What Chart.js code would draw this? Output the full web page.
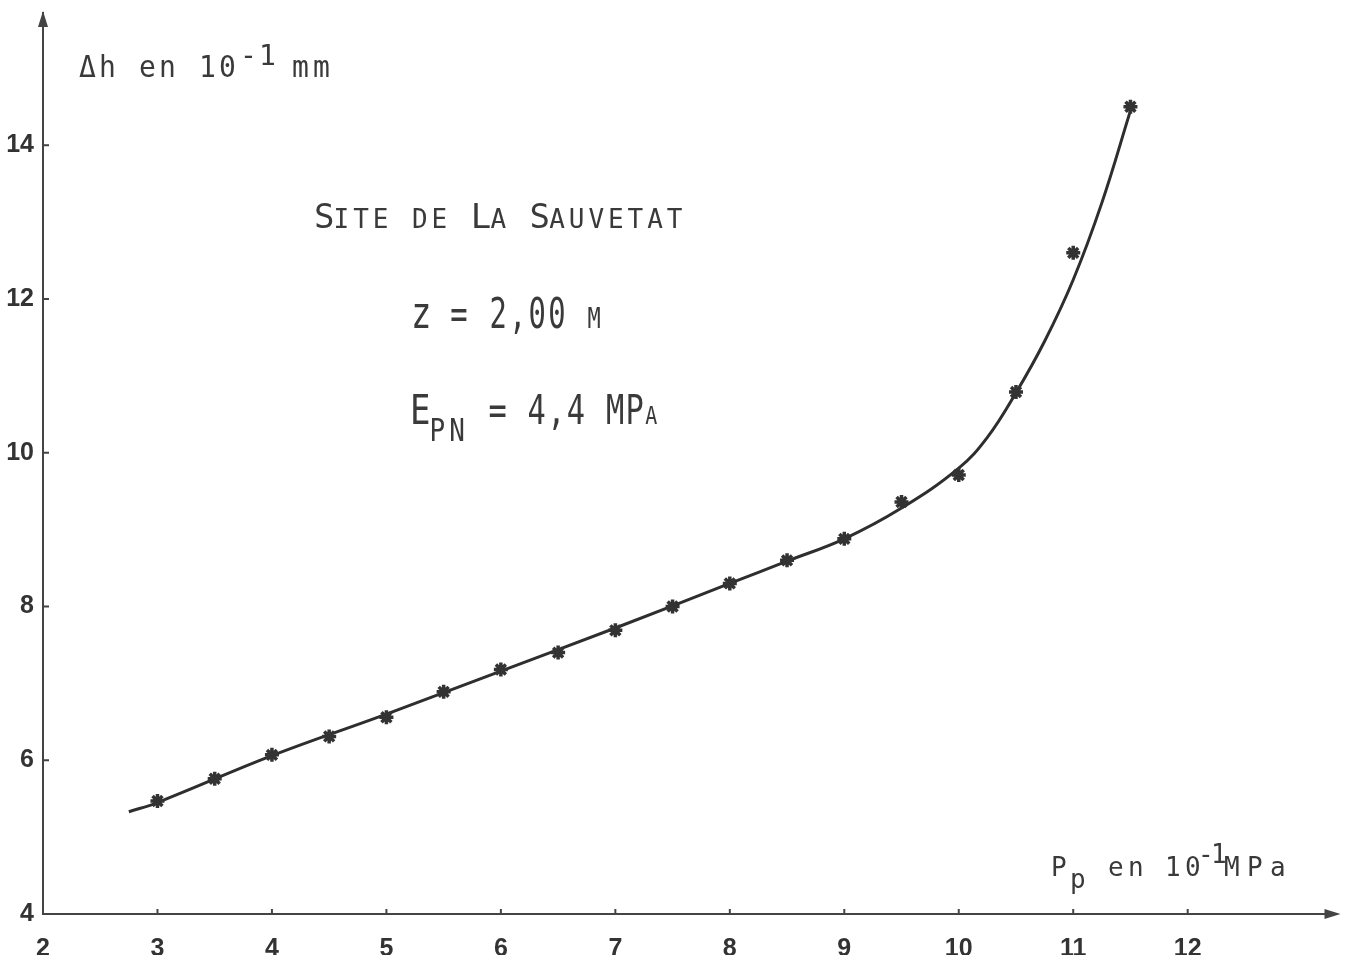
<!DOCTYPE html>
<html>
<head>
<meta charset="utf-8">
<script src="https://cdn.jsdelivr.net/npm/chart.js@4/dist/chart.umd.min.js"></script>
<style>
  html, body { margin: 0; padding: 0; background: #ffffff; }
  canvas { display: block; }
</style>
</head>
<body>
<canvas id="c" width="1347" height="955"></canvas>
<script>
// ---- data ----
const xTickValues = [2, 3, 4, 5, 6, 7, 8, 9, 10, 11, 12];
const yTickValues = [4, 6, 8, 10, 12, 14];

// measured points (pressure Pp in 10^-1 MPa, deformation Δh in 10^-1 mm)
const pressure    = [3, 3.5, 4, 4.5, 5, 5.5, 6, 6.5, 7, 7.5, 8, 8.5, 9, 9.5, 10, 10.5, 11, 11.5];
const deformation = [5.47, 5.76, 6.07, 6.31, 6.56, 6.89, 7.18, 7.40, 7.69, 8.00, 8.30, 8.60, 8.88, 9.36, 9.71, 10.79, 12.60, 14.50];

// hand-drawn fitted curve
const curveX = [2.75, 3, 4, 5, 6, 7, 8, 8.5, 9, 9.5, 10, 10.25, 10.5, 10.75, 11, 11.25, 11.5];
const curveY = [5.33, 5.45, 6.06, 6.60, 7.16, 7.72, 8.30, 8.59, 8.88, 9.28, 9.80, 10.20, 10.78, 11.45, 12.25, 13.25, 14.45];

const INK = '#3a3a3a';
const MONO = '"DejaVu Sans Mono", monospace';

// draw a string in a monospaced grid, each segment with its own size / offset
function drawMono(ctx, x0, baseline, pitch, segs) {
  let i = 0;
  ctx.save();
  ctx.fillStyle = INK;
  ctx.textBaseline = 'alphabetic';
  ctx.textAlign = 'left';
  for (const s of segs) {
    const p = s.pitch || pitch;
    let x = (s.x !== undefined) ? s.x : x0 + i * pitch;
    for (const ch of s.t) {
      if (ch !== ' ') {
        ctx.save();
        ctx.translate(x, baseline + (s.dy || 0));
        ctx.scale(s.sx || 1, s.sy || 1);
        ctx.font = (s.w || 'normal') + ' ' + s.size + 'px ' + MONO;
        ctx.fillText(ch, 0, 0);
        ctx.restore();
      }
      x += p;
      if (s.x === undefined) i++;
    }
  }
  ctx.restore();
}

const decorations = {
  id: 'decorations',
  afterDraw(chart) {
    const ctx = chart.ctx;
    const xs = chart.scales.x, ys = chart.scales.y;
    const a = chart.chartArea;
    ctx.save();
    ctx.strokeStyle = '#444';
    ctx.fillStyle = '#444';
    ctx.lineWidth = 2;
    // inward tick marks
    xTickValues.slice(1).forEach(v => {
      const px = xs.getPixelForValue(v);
      ctx.beginPath(); ctx.moveTo(px, a.bottom); ctx.lineTo(px, a.bottom - 5); ctx.stroke();
    });
    yTickValues.slice(1).forEach(v => {
      const py = ys.getPixelForValue(v);
      ctx.beginPath(); ctx.moveTo(a.left, py); ctx.lineTo(a.left + 6, py); ctx.stroke();
    });
    // arrow heads
    ctx.beginPath();
    ctx.moveTo(a.right + 4, a.bottom);
    ctx.lineTo(a.right - 12, a.bottom - 5);
    ctx.lineTo(a.right - 12, a.bottom + 5);
    ctx.closePath(); ctx.fill();
    ctx.beginPath();
    ctx.moveTo(a.left, a.top - 2);
    ctx.lineTo(a.left - 5, a.top + 14);
    ctx.lineTo(a.left + 5, a.top + 14);
    ctx.closePath(); ctx.fill();
    ctx.restore();

    // y-axis title: Δh en 10^-1 mm
    drawMono(ctx, 79, 77, 20, [
      { t: 'Δh en 10', size: 28, sy: 1.05 }
    ]);
    drawMono(ctx, 0, 65, 17, [
      { t: '-1', size: 28, sy: 1.0, x: 240, pitch: 19 },
      { t: 'mm', size: 28, sy: 1.05, x: 292, dy: 12, pitch: 21 }
    ]);

    // x-axis title: Pp en 10^-1 MPa
    drawMono(ctx, 0, 876, 20, [
      { t: 'P', size: 26, sy: 1.05, x: 1051 },
      { t: 'p', size: 26, sy: 1.05, x: 1070, dy: 12 },
      { t: 'en', size: 26, sy: 1.05, x: 1108, pitch: 20 },
      { t: '10', size: 26, sy: 1.05, x: 1165, pitch: 20 },
      { t: '-1', size: 26, sy: 1.0, x: 1198, dy: -13, pitch: 13 },
      { t: 'MPa', size: 26, sy: 1.05, x: 1224, pitch: 23 }
    ]);

    // annotation block
    const B = 34, S = 26;
    drawMono(ctx, 314, 228, 19.6, [
      { t: 'S', size: B }, { t: 'ITE', size: S }, { t: ' ', size: S },
      { t: 'DE', size: S }, { t: ' ', size: S },
      { t: 'L', size: B }, { t: 'A', size: S }, { t: ' ', size: S },
      { t: 'S', size: B }, { t: 'AUVETAT', size: S }
    ]);
    drawMono(ctx, 411, 328, 19.6, [
      { t: 'z', size: 34, sy: 1.3 },
      { t: ' = 2,00 ', size: 32, sx: 0.9, sy: 1.35 },
      { t: 'M', size: 22, sy: 1.3 }
    ]);
    drawMono(ctx, 410, 424, 19.6, [
      { t: 'E', size: 34, sy: 1.2 },
      { t: 'PN', size: 26, sy: 1.2, dy: 17 },
      { t: ' = 4,4 MP', size: 33, sx: 0.92, sy: 1.24 },
      { t: 'A', size: 20, sy: 1.22 }
    ]);
  }
};

const points = pressure.map((p, i) => ({ x: p, y: deformation[i] }));
const curve = curveX.map((p, i) => ({ x: p, y: curveY[i] }));

const tickFont = { family: '"Liberation Sans", Arial, sans-serif', weight: 'bold', size: 25 };

new Chart(document.getElementById('c'), {
  type: 'scatter',
  data: {
    datasets: [
      {
        label: 'courbe',
        data: curve,
        showLine: true,
        borderColor: '#2e2e2e',
        borderWidth: 3,
        pointRadius: 0,
        tension: 0.4,
        order: 2
      },
      {
        label: 'mesures',
        data: points,
        showLine: false,
        pointStyle: 'star',
        pointRadius: 7,
        borderColor: '#333',
        backgroundColor: '#333',
        pointBorderWidth: 3.5,
        order: 1
      }
    ]
  },
  options: {
    responsive: false,
    animation: false,
    devicePixelRatio: 1,
    layout: { padding: { left: 0, right: 7, top: 13, bottom: 0 } },
    plugins: { legend: { display: false }, tooltip: { enabled: false } },
    scales: {
      x: {
        type: 'linear',
        min: 2,
        max: 13.3,
        afterBuildTicks: s => { s.ticks = xTickValues.map(v => ({ value: v })); },
        afterFit: s => { s.height = 41; s.paddingLeft = 0; s.paddingRight = 0; },
        grid: { display: false, drawTicks: false },
        border: { display: true, color: '#444', width: 2 },
        ticks: { font: tickFont, color: '#333', padding: 20, autoSkip: false, maxRotation: 0 }
      },
      y: {
        type: 'linear',
        min: 4,
        max: 15.72,
        afterBuildTicks: s => { s.ticks = yTickValues.map(v => ({ value: v })); },
        afterFit: s => { s.width = 43; s.paddingTop = 0; s.paddingBottom = 0; },
        grid: { display: false, drawTicks: false },
        border: { display: true, color: '#444', width: 2 },
        ticks: { font: tickFont, color: '#333', padding: 9, autoSkip: false }
      }
    }
  },
  plugins: [decorations]
});
</script>
</body>
</html>
